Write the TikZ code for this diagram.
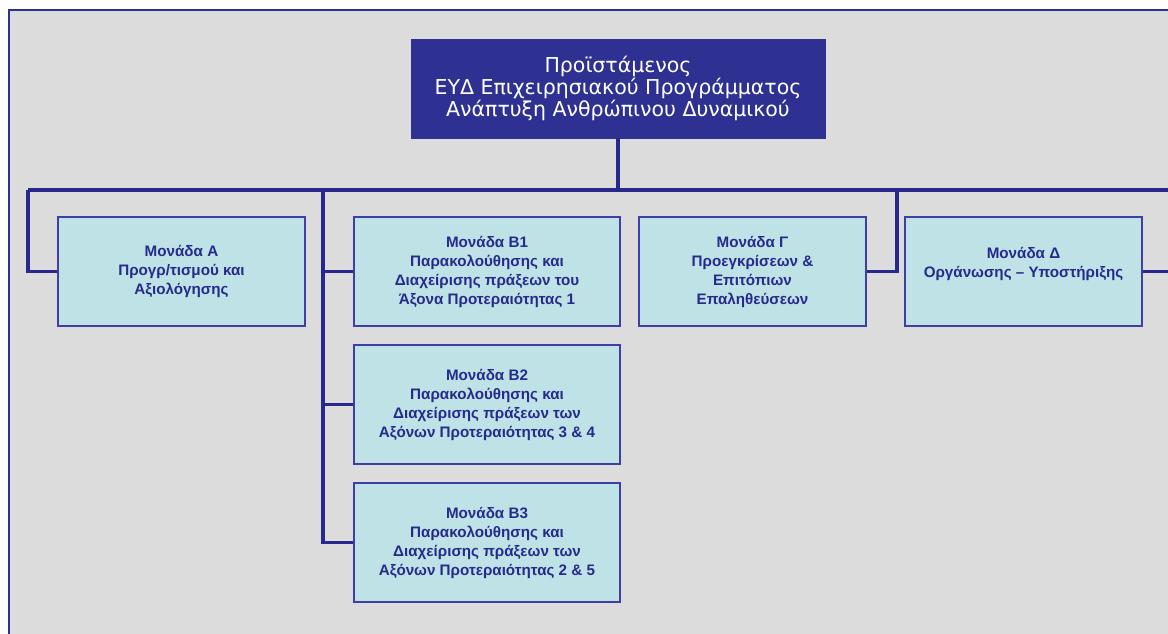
\documentclass[tikz,border=0pt]{standalone}
\usepackage{fontspec}
\setmainfont{Liberation Sans}
\newfontfamily\headfont{DejaVu Sans}
\usetikzlibrary{positioning}

\definecolor{framegray}{RGB}{220,220,220}
\definecolor{headblue}{RGB}{46,49,146}
\definecolor{unitfill}{RGB}{190,226,229}
\definecolor{unitline}{RGB}{62,62,164}
\definecolor{linkblue}{RGB}{40,40,140}
\definecolor{unittext}{RGB}{38,42,140}

\tikzset{
  headbox/.style={draw=headblue, fill=headblue, text=white, align=center,
    inner sep=0pt, font=\headfont\fontsize{20.5}{22}\selectfont},
  unitbox/.style={draw=unitline, line width=1.2pt, fill=unitfill, text=unittext,
    align=center, inner sep=0pt, font=\bfseries\fontsize{15.2}{19}\selectfont},
  link/.style={draw=linkblue, line width=3.2pt},
}

\begin{document}
\begin{tikzpicture}[x=1pt,y=-1pt]
	\def\busY{190}
	\def\bW{266pt}
	\useasboundingbox (0,0) rectangle (1168,634);
	\fill[framegray] (9,10) rectangle (1168,634);
	\draw[headblue, line width=1.5pt] (9,634) -- (9,10) -- (1168,10);

	% head of the unit
	\node[headbox, minimum width=414pt, minimum height=99pt] (chief) at (618,88.5)
		{Προϊστάμενος\\ΕΥΔ Επιχειρησιακού Προγράμματος\\Ανάπτυξη Ανθρώπινου Δυναμικού};

	% units
	\node[unitbox, minimum width=247pt, minimum height=109pt] (unitA) at (181.5,271.5)
		{Μονάδα Α\\Προγρ/τισμού και\\Αξιολόγησης};
	\node[unitbox, minimum width=\bW, minimum height=109pt] (unitB1) at (487,271.5)
		{Μονάδα Β1\\Παρακολούθησης και\\Διαχείρισης πράξεων του\\Άξονα Προτεραιότητας 1};
	\node[unitbox, minimum width=\bW, minimum height=119pt] (unitB2) at (487,404.5)
		{Μονάδα Β2\\Παρακολούθησης και\\Διαχείρισης πράξεων των\\Αξόνων Προτεραιότητας 3 \& 4};
	\node[unitbox, minimum width=\bW, minimum height=119pt] (unitB3) at (487,542.5)
		{Μονάδα Β3\\Παρακολούθησης και\\Διαχείρισης πράξεων των\\Αξόνων Προτεραιότητας 2 \& 5};
	\node[unitbox, minimum width=227pt, minimum height=109pt] (unitG) at (752.5,271.5)
		{Μονάδα Γ\\Προεγκρίσεων \&\\Επιτόπιων\\Επαληθεύσεων};
	\node[unitbox, minimum width=237pt, minimum height=109pt] (unitD) at (1023.5,271.5)
		{Μονάδα Δ\\Οργάνωσης -- Υποστήριξης\\\mbox{}};

	% bus
	\coordinate (busL) at (28,\busY);
	\coordinate (busR) at (1168,\busY);
	\coordinate (busB) at (323,\busY);
	\coordinate (busG) at (897,\busY);

	\draw[link] (chief.south) -- (chief.south |- busL);
	\draw[link] (busL) -- (busR);
	\draw[link] (busL) |- (unitA.west);
	\draw[link] (busB) |- (unitB3.west);
	\draw[link] (busB |- unitB1.west) -- (unitB1.west);
	\draw[link] (busB |- unitB2.west) -- (unitB2.west);
	\draw[link] (unitG.east) -| (busG);
	\draw[link] (unitD.east) -- (unitD.east -| busR);
\end{tikzpicture}
\end{document}
